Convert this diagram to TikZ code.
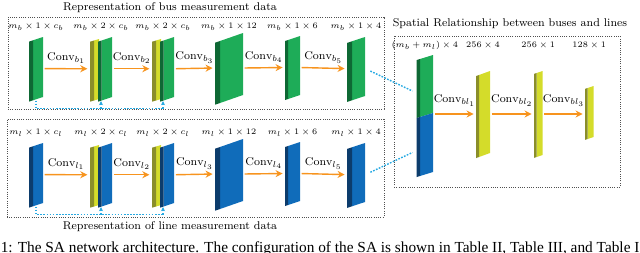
\documentclass[tikz,border=0pt]{standalone}
\usepackage{amsmath}
\usepackage{amssymb}
\usepackage{fontspec}
\usepackage{tikz}
\usetikzlibrary{arrows.meta, positioning, calc, fit}
\newfontfamily\capfont{Liberation Serif}
\definecolor{cBusFace}{RGB}{30,172,88}
\definecolor{cBusSide}{RGB}{14,104,52}
\definecolor{cLineFace}{RGB}{16,108,186}
\definecolor{cLineSide}{RGB}{12,60,108}
\definecolor{cFeatFace}{RGB}{212,220,42}
\definecolor{cFeatSide}{RGB}{138,142,42}
\definecolor{cConv}{RGB}{247,148,30}
\definecolor{cSkip}{RGB}{40,170,226}
\definecolor{cPanel}{RGB}{80,80,80}
\tikzset{
	panel/.style     ={draw=cPanel, line width=0.5pt, dash pattern=on 0.7pt off 0.9pt, inner sep=0pt},
	blockbox/.style  ={inner sep=0pt},
	convarrow/.style ={-{Stealth[length=5pt,width=5pt]}, cConv, line width=1pt, shorten <=1pt, shorten >=1.5pt},
	convlabel/.style ={midway, above=3pt, text=black, font=\fontsize{8}{9.5}\selectfont, inner sep=0pt},
	dimlabel/.style  ={font=\fontsize{6.5}{7.5}\selectfont, inner sep=0pt},
	panellabel/.style={font=\fontsize{8}{10}\selectfont, inner sep=0pt},
	% dotted shortcut links
	skiplink/.style  ={cSkip, line width=1pt, dash pattern=on 1.2pt off 1pt},
	skiparrow/.style ={skiplink, -{Stealth[length=3pt,width=3pt]}},
}
% slab: name, x, side width, face width, top y, height, skew, face colour, side colour
\newcommand{\slab}[9]{%
	\fill[fill=#8] (#2+#3,#5+#7) -- (#2+#3+#4,#5) -- (#2+#3+#4,#5+#6) -- (#2+#3,#5+#6+#7) -- cycle;
	\fill[fill=#9] (#2,#5+#7+#7*#3/#4) -- (#2+#3,#5+#7) -- (#2+#3,#5+#6+#7) -- (#2,#5+#6+#7+#7*#3/#4) -- cycle;
	\node[blockbox, fit={(#2,#5) (#2+#3+#4,#5+#6+#7)}] (#1) {};
}

\begin{document}
\begin{tikzpicture}[x=0.025cm, y=-0.025cm]
	\useasboundingbox (0,0) rectangle (640,252);
	% panels
	\node[panel, fit={(8,17) (384,109)}] (busbox) {};
	\node[panel, fit={(7,119) (384,217)}] (linebox) {};
	\node[panel, fit={(394,36) (620,187)}] (relbox) {};
	\node[panellabel] (bustitle) at (170,8) {Representation of bus measurement data};
	\node[panellabel] (linetitle) at (170,227) {Representation of line measurement data};
	\node[panellabel] (reltitle) at (510,24) {Spatial Relationship between buses and lines};

	% bus row and line row
	\foreach \r/\dy/\face/\side in {b/0/cBusFace/cBusSide, l/106/cLineFace/cLineSide} {
		\begin{scope}[shift={(0,\dy)}]
			\slab{\r0}{29}{4}{10}{37}{60}{3.3}{\face}{\side}
			\slab{\r1a}{90}{4}{5}{39}{60}{1.5}{cFeatFace}{cFeatSide}
			\slab{\r1f}{98}{3.5}{10.5}{37}{60}{3.5}{\face}{\side}
			\node[blockbox, fit=(\r1a)(\r1f)] (\r1) {};
			\slab{\r2a}{152}{4}{5}{39}{60}{1.5}{cFeatFace}{cFeatSide}
			\slab{\r2f}{160}{3.5}{10.5}{37}{60}{3.5}{\face}{\side}
			\node[blockbox, fit=(\r2a)(\r2f)] (\r2) {};
			\slab{\r3}{215}{5}{23}{33}{62}{8}{\face}{\side}
			\slab{\r4}{285}{3}{12}{36}{59}{4}{\face}{\side}
			\slab{\r5}{347}{5}{13}{37}{59}{4.3}{\face}{\side}

			\coordinate (dimrow) at (0,27);
			\node[dimlabel] at (\r0 |- dimrow) {$m_\r\times 1\times c_\r$};
			\node[dimlabel] at (\r1 |- dimrow) {$m_\r\times 2\times c_\r$};
			\node[dimlabel] at (\r2 |- dimrow) {$m_\r\times 2\times c_\r$};
			\node[dimlabel] at (\r3 |- dimrow) {$m_\r\times 1\times 12$};
			\node[dimlabel] at (\r4 |- dimrow) {$m_\r\times 1\times 6$};
			\node[dimlabel] at (\r5 |- dimrow) {$m_\r\times 1\times 4$};

			\draw[convarrow] (\r0.east) -- (\r1.west) node[convlabel] {$\mathrm{Conv}_{\r_1}$};
			\draw[convarrow] (\r1.east) -- (\r2.west) node[convlabel] {$\mathrm{Conv}_{\r_2}$};
			\draw[convarrow] (\r2.east) -- (\r3.west) node[convlabel] {$\mathrm{Conv}_{\r_3}$};
			\draw[convarrow] (\r3.east) -- (\r4.west) node[convlabel] {$\mathrm{Conv}_{\r_4}$};
			\draw[convarrow] (\r4.east) -- (\r5.west) node[convlabel] {$\mathrm{Conv}_{\r_5}$};

			\coordinate (\r skip) at ($(\r0.south)+(0,8)$);
			\draw[skiplink] (\r0.south) -- (\r skip) -- (\r skip -| \r2.south);
			\draw[skiparrow] (\r skip -| \r1.south) -- (\r1.south);
			\draw[skiparrow] (\r skip -| \r2.south) -- (\r2.south);
		\end{scope}
	}

	% joint block
	\slab{stb}{416.7}{3.3}{13}{55}{58}{4}{cBusFace}{cBusSide}
	\slab{stl}{416.7}{3.3}{13}{113}{59}{4}{cLineFace}{cLineSide}
	\node[blockbox, fit=(stb)(stl)] (st) {};
	\slab{bl1}{476}{3}{11}{71}{82}{4}{cFeatFace}{cFeatSide}
	\slab{bl2}{534}{2.5}{6}{71}{84}{2}{cFeatFace}{cFeatSide}
	\slab{bl3}{585}{2.5}{6}{86}{51}{2}{cFeatFace}{cFeatSide}

	\coordinate (reldim) at (0,45);
	\node[dimlabel] at (st |- reldim) {$(m_b+m_l)\times 4$};
	\node[dimlabel] at (bl1 |- reldim) {$256\times 4$};
	\node[dimlabel] at (bl2 |- reldim) {$256\times 1$};
	\node[dimlabel] at (bl3 |- reldim) {$128\times 1$};

	\draw[convarrow] (st.east |- bl1.west) -- (bl1.west) node[convlabel, above=5pt] {$\mathrm{Conv}_{bl_1}$};
	\draw[convarrow] (bl1.east) -- (bl2.west) node[convlabel, above=5pt] {$\mathrm{Conv}_{bl_2}$};
	\draw[convarrow] (bl2.east) -- (bl2.east -| bl3.west) node[convlabel, above=5pt] {$\mathrm{Conv}_{bl_3}$};

	\draw[skiplink, shorten <=4pt] (b5.east) -- ($(stb.west)+(-4,5)$);
	\draw[skiplink, shorten <=4pt] (l5.east) -- ($(stl.west)+(-4,8)$);

	% caption line
	\node[anchor=base west, inner sep=0pt, font=\capfont\fontsize{10.9}{13}\selectfont] (caption) at (0.5,252.5)
		{1: The SA network architecture. The configuration of the SA is shown in Table II, Table III, and Table I};
\end{tikzpicture}
\end{document}
